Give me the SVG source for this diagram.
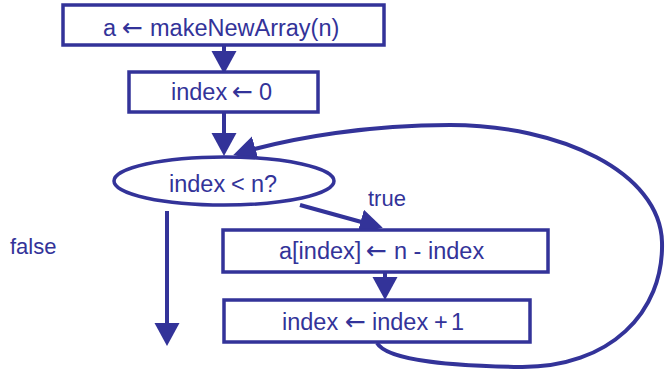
<svg xmlns="http://www.w3.org/2000/svg" width="666" height="373" viewBox="0 0 666 373">
  <style>
    .box { fill: #ffffff; stroke: #333399; stroke-width: 3.5; }
    .lbl { font-family: "Liberation Sans", Arial, sans-serif; font-size: 23.5px; fill: #333399; }
    .side { font-family: "Liberation Sans", Arial, sans-serif; font-size: 22px; fill: #333399; }
    .ar { font-family: "DejaVu Sans", sans-serif; font-size: 25px; }
    .edge { fill: none; stroke: #333399; stroke-width: 4; marker-end: url(#head); }
  </style>
  <defs>
    <marker id="head" markerUnits="userSpaceOnUse" markerWidth="24" markerHeight="26" refX="16" refY="12.5" orient="auto">
      <path d="M0,0 L23,12.5 L0,25 z" fill="#333399"/>
    </marker>
  </defs>

  <rect width="666" height="373" fill="#ffffff"/>

  <g id="connectors">
    <!-- makeNewArray -> index init -->
    <path class="edge" d="M224,45 L224,67"/>
    <!-- index init -> test -->
    <path class="edge" d="M224,112 L224,149"/>
    <!-- test -> body (true) -->
    <path class="edge" d="M300,205 L376,226"/>
    <!-- body -> increment -->
    <path class="edge" d="M385,272 L385,293"/>
    <!-- test -> exit (false) -->
    <path class="edge" d="M167,211 L167,339"/>
    <!-- loop back from increment to test -->
    <path class="edge" d="M377,343 C388,362 460,366 520,367 C610,368 664,312 662,242 C660,172 560,125 450,125 C370,125 295,137 240,153"/>
  </g>

  <g id="node-make-array">
    <rect class="box" x="63" y="5" width="321" height="40"/>
    <text class="lbl" y="36"><tspan x="103">a</tspan><tspan class="ar" x="122">←</tspan><tspan x="150">makeNewArray(n)</tspan></text>
  </g>

  <g id="node-index-init">
    <rect class="box" x="129" y="72" width="189" height="40"/>
    <text class="lbl" y="100"><tspan x="171">index</tspan><tspan class="ar" x="232">←</tspan><tspan x="259">0</tspan></text>
  </g>

  <g id="node-test">
    <ellipse class="box" cx="224" cy="181" rx="110" ry="24"/>
    <text class="lbl" y="192"><tspan x="169">index</tspan><tspan x="231">&lt;</tspan><tspan x="251">n?</tspan></text>
  </g>

  <g id="node-body">
    <rect class="box" x="223" y="230" width="325" height="42"/>
    <text class="lbl" y="259"><tspan x="279">a[index]</tspan><tspan class="ar" x="366">←</tspan><tspan x="394">n - index</tspan></text>
  </g>

  <g id="node-increment">
    <rect class="box" x="224" y="300" width="306" height="42"/>
    <text class="lbl" y="330"><tspan x="282">index</tspan><tspan class="ar" x="345">←</tspan><tspan x="372">index</tspan><tspan x="434">+</tspan><tspan x="451">1</tspan></text>
  </g>

  <g id="edge-labels">
    <text class="side" x="368" y="206">true</text>
    <text class="side" x="10" y="254">false</text>
  </g>
</svg>
